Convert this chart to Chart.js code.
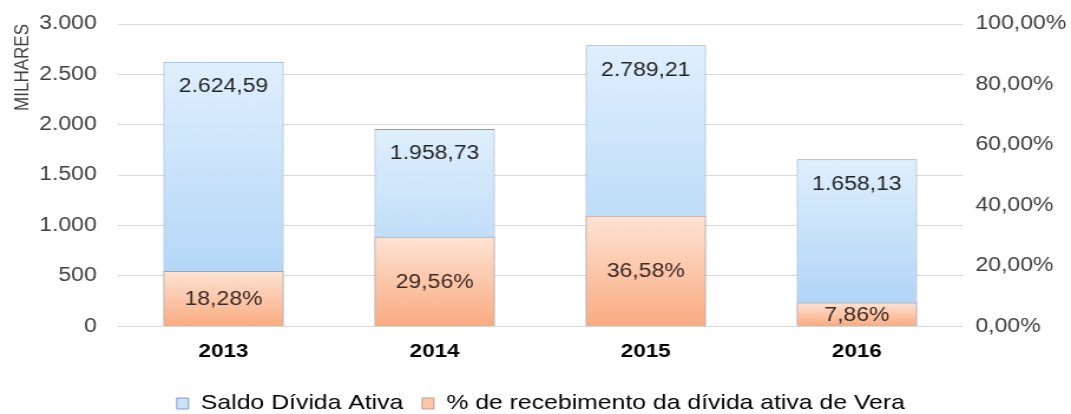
<!DOCTYPE html>
<html lang="pt-BR">
<head>
<meta charset="utf-8">
<title>Dívida Ativa</title>
<script src="https://cdn.jsdelivr.net/npm/chart.js@4.4.1/dist/chart.umd.min.js"></script>
<style>
  html, body { margin: 0; padding: 0; background: #fff; overflow: hidden; }
  /* the original picture is stretched sideways, so the chart is too */
  #wrap { width: 908px; height: 414px; transform: scaleX(1.1795); transform-origin: 0 0; }
</style>
</head>
<body>
<div id="wrap"><canvas id="chart"></canvas></div>
<script>
// DADOS
const anos = ["2013", "2014", "2015", "2016"];
const saldoDivida = [2624.59, 1958.73, 2789.21, 1658.13];
const percRecebimento = [18.28, 29.56, 36.58, 7.86];
const nomeSaldo = "Saldo Dívida Ativa";
const nomePerc = "% de recebimento da dívida ativa de Vera";
const tituloEixo = "MILHARES";

const FONTE = "'Liberation Sans', Arial, sans-serif";

// FORMATOS pt-BR
function milhar(n) {
  return String(n).replace(/\B(?=(\d{3})+(?!\d))/g, ".");
}
function moeda(v) {
  const partes = v.toFixed(2).split(".");
  return milhar(partes[0]) + "," + partes[1];
}
function pct(v) {
  return v.toFixed(2).replace(".", ",") + "%";
}

// GRADIENTE POR BARRA
function gradiente(topo, base) {
  return (ctx) => {
    const chart = ctx.chart;
    if (!chart.chartArea || ctx.raw === undefined) return topo;
    const scale = chart.scales[ctx.dataset.yAxisID];
    const y0 = scale.getPixelForValue(ctx.raw);
    const y1 = scale.getPixelForValue(0);
    if (!isFinite(y0) || y1 - y0 < 1) return topo;
    const g = chart.ctx.createLinearGradient(0, y0, 0, y1);
    g.addColorStop(0, topo);
    g.addColorStop(1, base);
    return g;
  };
}

// LARGURA FIXA DOS EIXOS Y
function ajustaEixo(largura) {
  return (scale) => {
    scale.width = largura;
    scale.paddingTop = 0;
    scale.paddingBottom = 0;
  };
}

// RÓTULOS DAS BARRAS
const rotulos = {
  id: "rotulos",
  afterDatasetsDraw(chart) {
    const ctx = chart.ctx;
    ctx.save();
    ctx.font = "19.5px " + FONTE;
    ctx.textAlign = "center";
    ctx.textBaseline = "middle";
    chart.data.datasets.forEach((ds, i) => {
      const meta = chart.getDatasetMeta(i);
      meta.data.forEach((bar, j) => {
        if (ds.yAxisID === "y") {
          ctx.fillStyle = "#262626";
          ctx.fillText(moeda(ds.data[j]), bar.x, bar.y + 25);
        } else {
          ctx.fillStyle = "#3b2a24";
          ctx.fillText(pct(ds.data[j]), bar.x, (bar.y + bar.base) / 2 + 1);
        }
      });
    });
    ctx.restore();
  },
};

const config = {
  type: "bar",
  data: {
    labels: anos,
    datasets: [
      {
        label: nomeSaldo,
        data: saldoDivida,
        yAxisID: "y",
        order: 2,
        grouped: false,
        backgroundColor: gradiente("#e0effd", "#a9d1f6"),
        borderColor: "#7f9ec2",
        borderWidth: 1,
        barPercentage: 0.57,
        categoryPercentage: 1,
      },
      {
        label: nomePerc,
        data: percRecebimento,
        yAxisID: "y1",
        order: 1,
        grouped: false,
        backgroundColor: gradiente("#fee3d4", "#f9ab80"),
        borderColor: "#c49a86",
        borderWidth: 1,
        barPercentage: 0.57,
        categoryPercentage: 1,
      },
    ],
  },
  options: {
    responsive: true,
    maintainAspectRatio: false,
    animation: false,
    layout: { padding: { top: 24, left: 9, right: 0, bottom: -10 } },
    scales: {
      x: {
        grid: { display: false, drawTicks: false },
        border: { display: false },
        ticks: {
          color: "#000",
          padding: 14,
          font: { family: FONTE, size: 19, weight: "bold" },
        },
      },
      y: {
        position: "left",
        min: 0,
        max: 3000,
        afterFit: ajustaEixo(91),
        grid: { color: "#d9d9d9", drawTicks: false },
        border: { display: false },
        ticks: {
          stepSize: 500,
          color: "#404040",
          padding: 18,
          font: { family: FONTE, size: 19.5 },
          callback: (v) => milhar(v),
        },
        title: {
          display: true,
          text: tituloEixo,
          align: "end",
          color: "#404040",
          padding: { top: 0, bottom: 0 },
          font: { family: FONTE, size: 17 },
        },
      },
      y1: {
        position: "right",
        min: 0,
        max: 100,
        afterFit: ajustaEixo(92),
        grid: { display: false, drawTicks: false },
        border: { display: false },
        ticks: {
          stepSize: 20,
          color: "#404040",
          padding: 11,
          font: { family: FONTE, size: 19.5 },
          callback: (v) => pct(v),
        },
      },
    },
    plugins: {
      tooltip: { enabled: false },
      legend: {
        position: "bottom",
        labels: {
          color: "#262626",
          boxWidth: 10,
          boxHeight: 11,
          padding: 16,
          font: { family: FONTE, size: 21 },
          generateLabels: (chart) => [
            { text: nomeSaldo, fillStyle: "#c9e3fa", strokeStyle: "#7f9ec2", lineWidth: 1, datasetIndex: 0 },
            { text: nomePerc, fillStyle: "#fbc7a9", strokeStyle: "#c49a86", lineWidth: 1, datasetIndex: 1 },
          ],
        },
      },
    },
  },
  plugins: [rotulos],
};

new Chart(document.getElementById("chart"), config);
</script>
</body>
</html>
